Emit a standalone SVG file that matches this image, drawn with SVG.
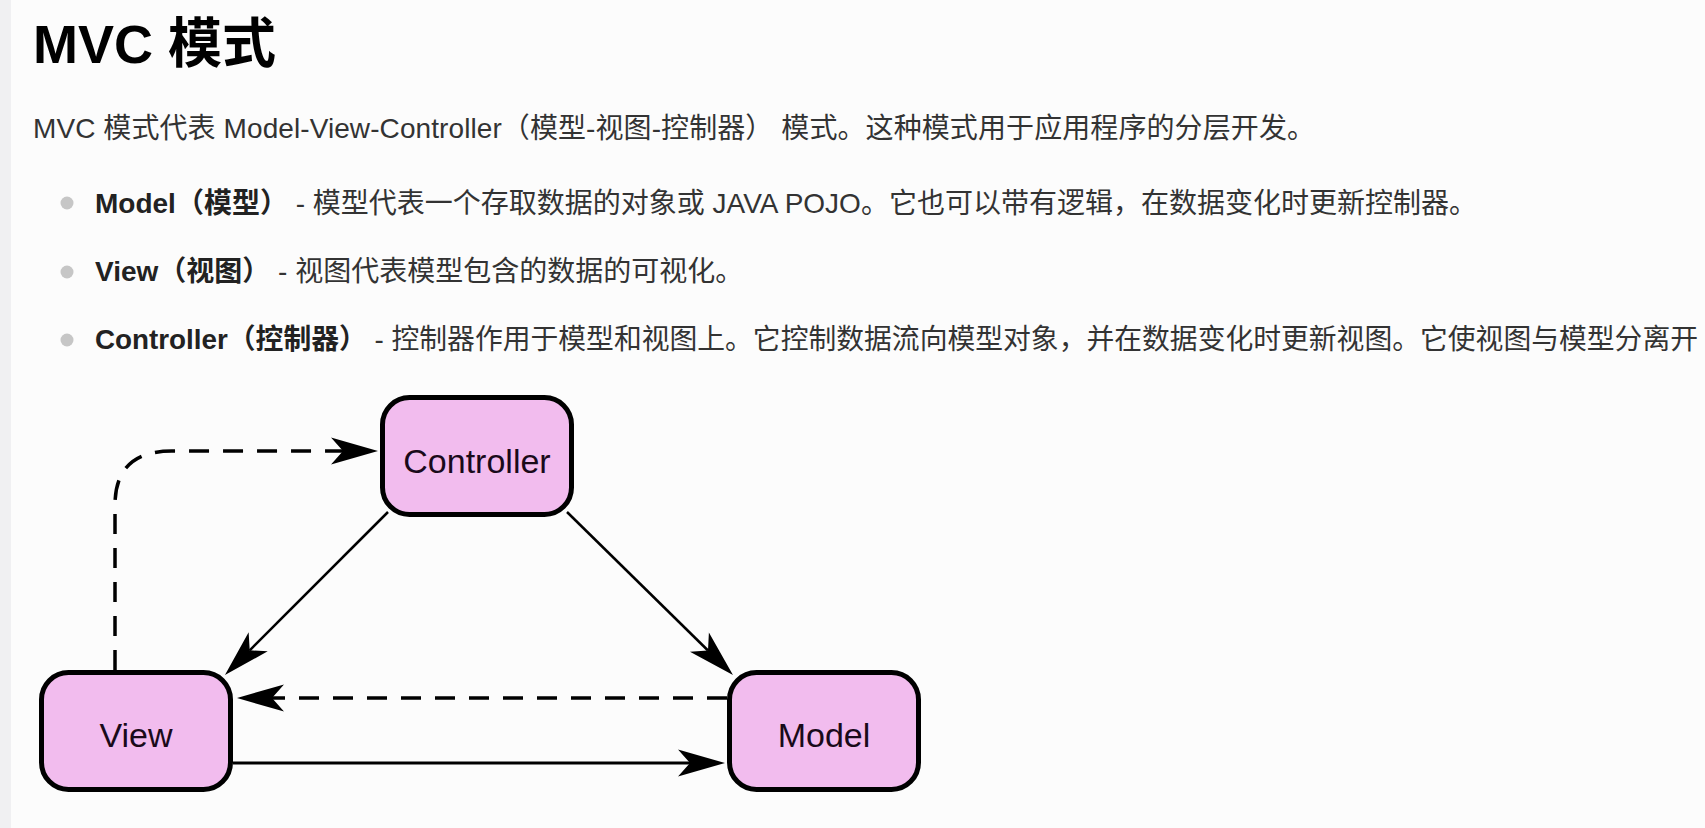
<svg xmlns="http://www.w3.org/2000/svg" width="1705" height="828" viewBox="0 0 1705 828">
  <style>
    .t { font-family: "Liberation Sans", "Noto Sans CJK SC", sans-serif; }
    .title { font-size: 54px; font-weight: bold; fill: #000; }
    .body { font-size: 28px; fill: #333; }
    .b { font-weight: bold; fill: #222; }
    .bullet { fill: #c6c6c6; }
    .node rect { fill: #f2bcee; stroke: #000; stroke-width: 5; }
    .node text { font-family: "Liberation Sans", sans-serif; font-size: 34px; fill: #1a0a1a; text-anchor: middle; }
    .conn { fill: none; stroke: #000; }
    .solid { stroke-width: 2.5; }
    .dash { stroke-width: 3.5; stroke-dasharray: 20 14; }
  </style>
  <defs>
    <marker id="ah" viewBox="-14 -16 52 32" markerWidth="52" markerHeight="32" refX="0" refY="0" orient="auto" markerUnits="userSpaceOnUse" overflow="visible">
      <path d="M35,0 L-12,-13.5 L0,0 L-12,13.5 Z" fill="#000"/>
    </marker>
  </defs>

  <rect x="0" y="0" width="1705" height="828" fill="#fcfcfc"/>
  <rect x="0" y="0" width="11" height="828" fill="#f0f0f2"/>

  <g id="text">
    <text class="t title" x="33" y="63">MVC 模式</text>
    <text class="t body" x="33" y="138" textLength="1282">MVC 模式代表 Model-View-Controller（模型-视图-控制器） 模式。这种模式用于应用程序的分层开发。</text>

    <circle class="bullet" cx="67" cy="203" r="6.5"/>
    <text class="t body" x="95" y="213"><tspan class="b">Model（模型）</tspan> - 模型代表一个存取数据的对象或 JAVA POJO。它也可以带有逻辑，在数据变化时更新控制器。</text>

    <circle class="bullet" cx="67" cy="272" r="6.5"/>
    <text class="t body" x="95" y="281"><tspan class="b">View（视图）</tspan> - 视图代表模型包含的数据的可视化。</text>

    <circle class="bullet" cx="67" cy="340" r="6.5"/>
    <text class="t body" x="95" y="349" textLength="1603" lengthAdjust="spacingAndGlyphs"><tspan class="b">Controller（控制器）</tspan> - 控制器作用于模型和视图上。它控制数据流向模型对象，并在数据变化时更新视图。它使视图与模型分离开</text>
  </g>

  <g id="connectors">
    <path class="conn dash" d="M115,670 L115,505 Q115,451 172,451 L343,451" marker-end="url(#ah)"/>
    <path class="conn solid" d="M388,512 L249.7,650.3" marker-end="url(#ah)"/>
    <path class="conn solid" d="M567,512 L708,650.5" marker-end="url(#ah)"/>
    <path class="conn dash" d="M727,698 L272,698" marker-end="url(#ah)"/>
    <path class="conn" stroke-width="3" d="M233,763 L690,763" marker-end="url(#ah)"/>
  </g>

  <g id="node-controller" class="node">
    <rect x="382.5" y="397.5" width="189" height="117" rx="27"/>
    <text x="477" y="473">Controller</text>
  </g>
  <g id="node-view" class="node">
    <rect x="41.5" y="672.5" width="189" height="117" rx="27"/>
    <text x="136" y="747">View</text>
  </g>
  <g id="node-model" class="node">
    <rect x="729.5" y="672.5" width="189" height="117" rx="27"/>
    <text x="824" y="747">Model</text>
  </g>
</svg>
